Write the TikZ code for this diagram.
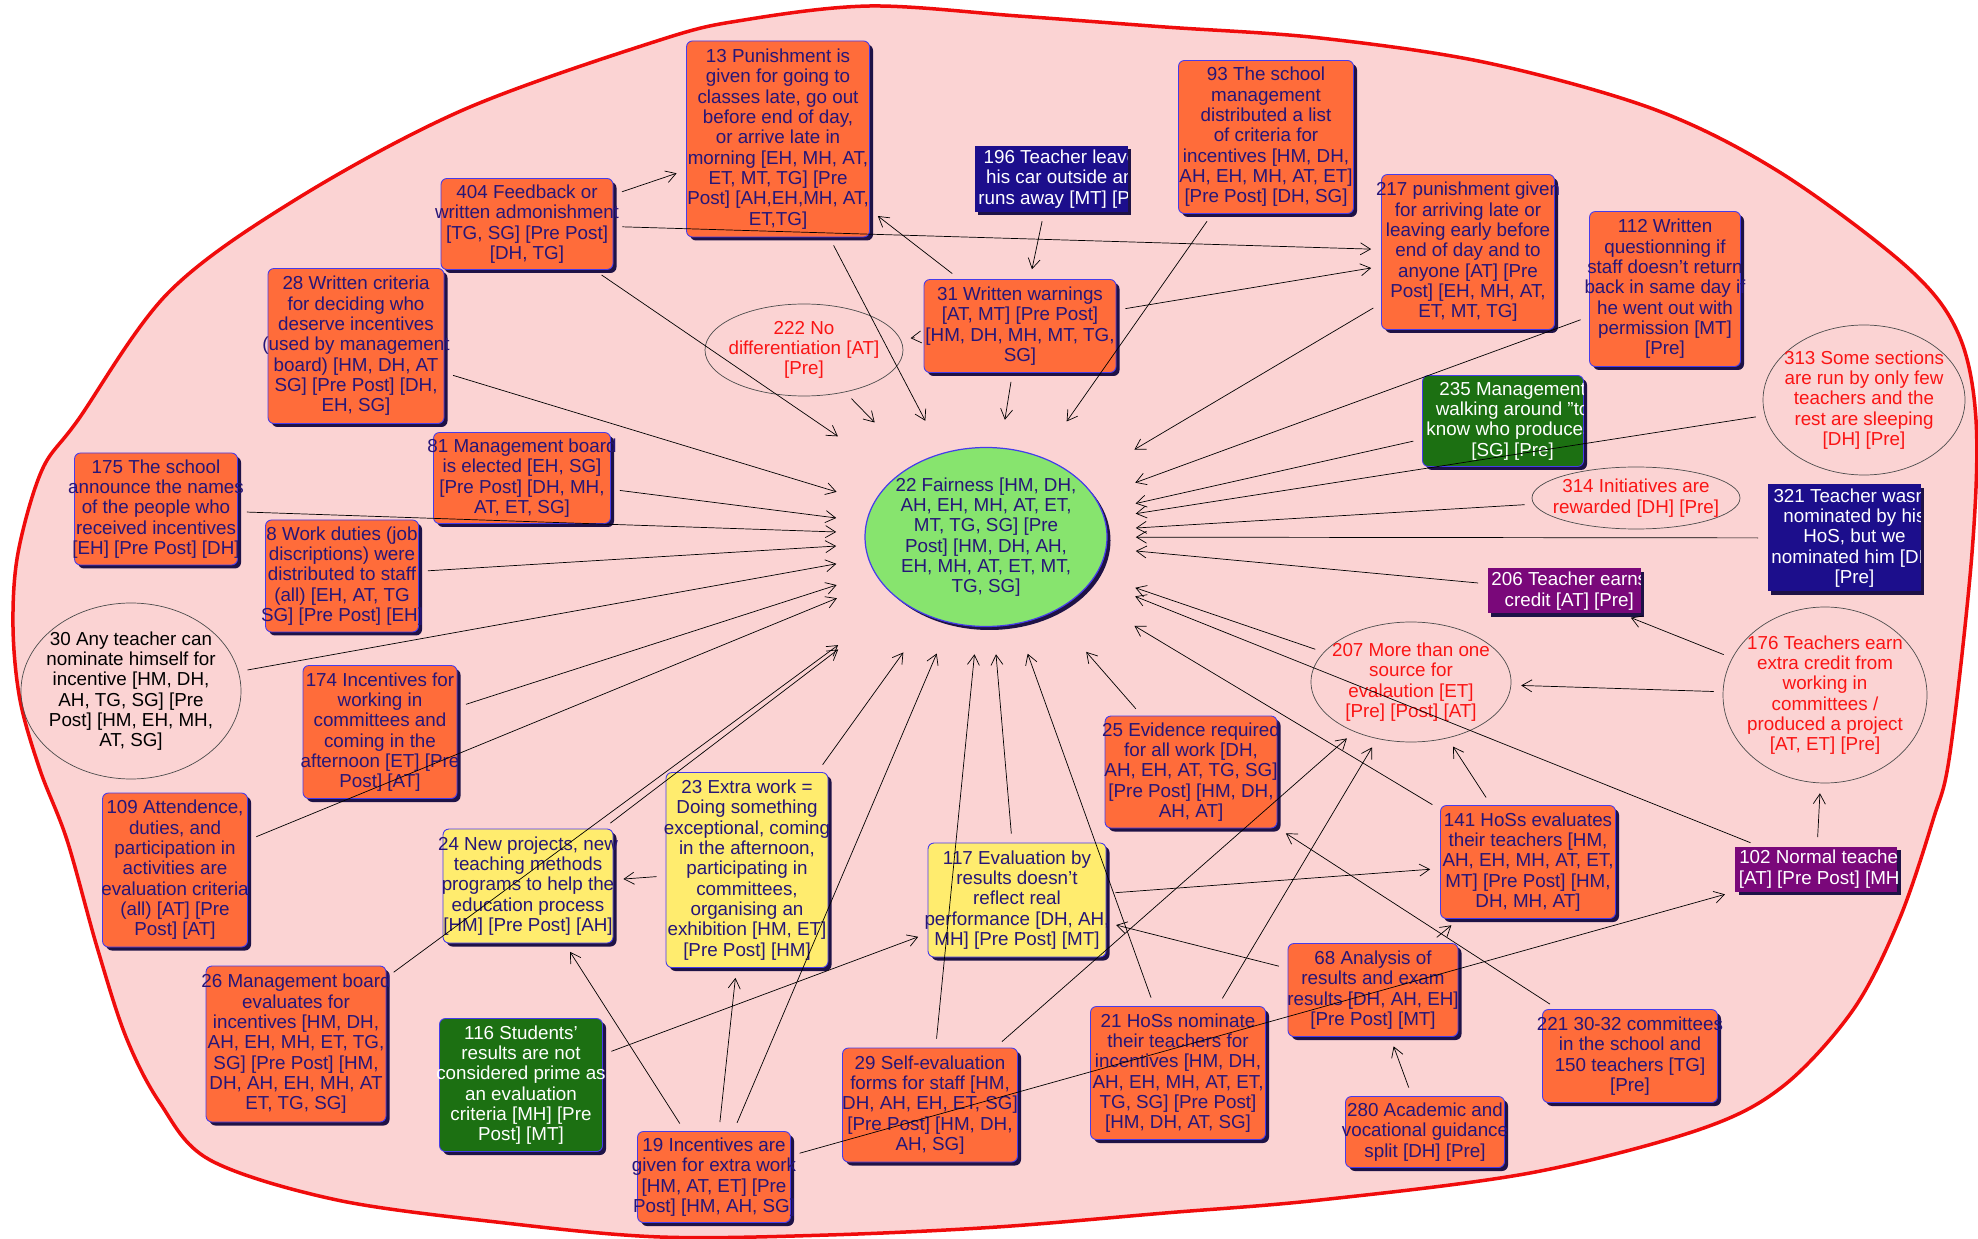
\documentclass[tikz,border=0pt]{standalone}
\usepackage{fontspec}
\setmainfont{Liberation Sans}
\usetikzlibrary{shapes.geometric,shadows,arrows.meta}

\definecolor{fieldpink}{RGB}{251,211,211}
\definecolor{fencered}{RGB}{240,12,12}
\definecolor{orangefill}{RGB}{255,108,58}
\definecolor{yellowfill}{RGB}{255,236,110}
\definecolor{hubgreen}{RGB}{135,228,110}
\definecolor{leafgreen}{RGB}{28,112,18}
\definecolor{navybox}{RGB}{28,14,140}
\definecolor{plum}{RGB}{122,8,122}
\definecolor{inkblue}{RGB}{38,22,120}
\definecolor{edgeblue}{RGB}{70,60,235}
\definecolor{shade}{RGB}{30,18,70}
\definecolor{redtext}{RGB}{250,20,20}

\tikzset{
  wh/.style 2 args={minimum width=#1*0.2mm, minimum height=#2*0.2mm},
  card/.style={rectangle, rounded corners=1.2mm, draw=edgeblue, line width=0.5pt,
    inner sep=-5mm, align=center, text=inkblue,
    drop shadow={shadow xshift=0.7mm, shadow yshift=-0.7mm, fill=shade, opacity=1}},
  ocard/.style={card, fill=orangefill},
  ycard/.style={card, fill=yellowfill},
  gcard/.style={card, fill=leafgreen, text=white},
  ncard/.style={card, sharp corners, draw=none, fill=navybox},
  pcard/.style={card, sharp corners, draw=none, fill=plum},
  oval/.style={ellipse, draw=black!70, line width=0.4pt, inner sep=-8mm,
    align=center, text=redtext},
  spilltext/.style={anchor=west, align=center, text=white, inner sep=0pt},
  link/.style={line width=0.4pt, shorten <=1.8mm, shorten >=2mm,
    -{Straight Barb[length=2mm,width=2.4mm]}},
}

\begin{document}
\begin{tikzpicture}[x=0.2mm, y=-0.2mm, font=\fontsize{10.7pt}{11.55pt}\selectfont]
\useasboundingbox (0,0) rectangle (1978,1239);
\fill[white] (0,0) rectangle (1978,1239);

% outer boundary
\draw[fencered, fill=fieldpink, line width=0.7mm] plot[smooth cycle, tension=0.55] coordinates {
  (463,110) (660,40) (744,20) (870,6) (1018,16) (1165,27) (1320,38) (1488,63)
  (1656,110) (1781,173) (1907,267) (1958,333) (1976,420) (1972,553) (1950,753)
  (1933,820) (1899,920) (1853,1010) (1782,1087) (1698,1130) (1530,1173)
  (1320,1200) (1165,1213) (997,1227) (828,1235) (660,1237) (505,1223)
  (337,1200) (210,1160) (160,1103) (126,1037) (97,947) (67,840) (40,770)
  (20,700) (13,627) (18,553) (42,470) (78,420) (168,293) (295,200)};

% centre concept
\node[ellipse, wh={242}{179}, fill=hubgreen, draw=edgeblue, line width=0.7pt,
  inner sep=-8mm, align=center, text=inkblue,
  drop shadow={shadow xshift=0.7mm, shadow yshift=-0.7mm, fill=shade, opacity=1}]
  (n22) at (986,537) {22 Fairness [HM, DH,\\AH, EH, MH, AT, ET,\\MT, TG, SG] [Pre\\Post] [HM, DH, AH,\\EH, MH, AT, ET, MT,\\TG, SG]};
\node[wh={279}{214}, inner sep=0pt] (hub) at (n22) {};

% top row
\node[ocard, wh={183}{196}] (n13) at (778,139) {13 Punishment is\\given for going to\\classes late, go out\\before end of day,\\or arrive late in\\morning [EH, MH, AT,\\ET, MT, TG] [Pre\\Post] [AH,EH,MH, AT,\\ET,TG]};
\node[ncard, wh={153}{66}] (n196) at (1051,179) {};
\node[ocard, wh={175}{153}] (n93) at (1266,137) {93 The school\\management\\distributed a list\\of criteria for\\incentives [HM, DH,\\AH, EH, MH, AT, ET]\\{}[Pre Post] [DH, SG]};
\node[ocard, wh={172}{91}] (n404) at (527,224) {404 Feedback or\\written admonishment\\{}[TG, SG] [Pre Post]\\{}[DH, TG]};
\node[ocard, wh={176}{155}] (n28) at (356,346) {28 Written criteria\\for deciding who\\deserve incentives\\(used by management\\board) [HM, DH, AT\\SG] [Pre Post] [DH,\\EH, SG]};
\node[ocard, wh={192}{93}] (n31) at (1020,326) {31 Written warnings\\{}[AT, MT] [Pre Post]\\{}[HM, DH, MH, MT, TG,\\SG]};
\node[oval, wh={198}{92}] (n222) at (804,350) {222 No\\differentiation [AT]\\{}[Pre]};
\node[ocard, wh={173}{155}] (n217) at (1468,252) {217 punishment given\\for arriving late or\\leaving early before\\end of day and to\\anyone [AT] [Pre\\Post] [EH, MH, AT,\\ET, MT, TG]};
\node[ocard, wh={151}{155}] (n112) at (1665,289) {112 Written\\questionning if\\staff doesn't return\\back in same day if\\he went out with\\permission [MT]\\{}[Pre]};
\node[oval, wh={202}{150}] (n313) at (1864,400) {313 Some sections\\are run by only few\\teachers and the\\rest are sleeping\\{}[DH] [Pre]};
\node[gcard, wh={161}{91}] (n235) at (1503,421) {};

% left side
\node[ocard, wh={163}{112}] (n175) at (156,509) {175 The school\\announce the names\\of the people who\\received incentives\\{}[EH] [Pre Post] [DH]};
\node[ocard, wh={177}{91}] (n81) at (522,478) {81 Management board\\is elected [EH, SG]\\{}[Pre Post] [DH, MH,\\AT, ET, SG]};
\node[ocard, wh={153}{112}] (n8) at (342,576) {8 Work duties (job\\discriptions) were\\distributed to staff\\(all) [EH, AT, TG\\SG] [Pre Post] [EH]};
\node[oval, wh={220}{176}, text=black] (n30) at (131,691) {30 Any teacher can\\nominate himself for\\incentive [HM, DH,\\AH, TG, SG] [Pre\\Post] [HM, EH, MH,\\AT, SG]};
\node[ocard, wh={154}{133}] (n174) at (380,732) {174 Incentives for\\working in\\committees and\\coming in the\\afternoon [ET] [Pre\\Post] [AT]};
\node[ocard, wh={145}{154}] (n109) at (175,870) {109 Attendence,\\duties, and\\participation in\\activities are\\evaluation criteria\\(all) [AT] [Pre\\Post] [AT]};

% right side
\node[oval, wh={208}{62}] (n314) at (1636,498) {314 Initiatives are\\rewarded [DH] [Pre]};
\node[ncard, wh={153}{107}] (n321) at (1844,538) {};
\node[pcard, wh={153}{45}] (n206) at (1564,591) {};
\node[oval, wh={200}{120}] (n207) at (1411,682) {207 More than one\\source for\\evalaution [ET]\\{}[Pre] [Post] [AT]};
\node[oval, wh={204}{176}] (n176) at (1825,695) {176 Teachers earn\\extra credit from\\working in\\committees /\\produced a project\\{}[AT, ET] [Pre]};
\node[ocard, wh={172}{112}] (n25) at (1191,772) {25 Evidence required\\for all work [DH,\\AH, EH, AT, TG, SG]\\{}[Pre Post] [HM, DH,\\AH, AT]};
\node[ocard, wh={175}{113}] (n141) at (1528,862) {141 HoSs evaluates\\their teachers [HM,\\AH, EH, MH, AT, ET,\\MT] [Pre Post] [HM,\\DH, MH, AT]};
\node[pcard, wh={162}{45}] (n102) at (1816,869) {};

% bottom half
\node[ycard, wh={162}{195}] (n23) at (747,870) {23 Extra work =\\Doing something\\exceptional, coming\\in the afternoon,\\participating in\\committees,\\organising an\\exhibition [HM, ET]\\{}[Pre Post] [HM]};
\node[ycard, wh={170}{114}] (n24) at (528,886) {24 New projects, new\\teaching methods\\programs to help the\\education process\\{}[HM] [Pre Post] [AH]};
\node[ycard, wh={178}{114}] (n117) at (1017,900) {117 Evaluation by\\results doesn't\\reflect real\\performance [DH, AH,\\MH] [Pre Post] [MT]};
\node[ocard, wh={170}{93}] (n68) at (1373,990) {68 Analysis of\\results and exam\\results [DH, AH, EH]\\{}[Pre Post] [MT]};
\node[ocard, wh={180}{156}] (n26) at (296,1044) {26 Management board\\evaluates for\\incentives [HM, DH,\\AH, EH, MH, ET, TG,\\SG] [Pre Post] [HM,\\DH, AH, EH, MH, AT\\ET, TG, SG]};
\node[gcard, wh={163}{133}] (n116) at (521,1085) {116 Students'\\results are not\\considered prime as\\an evaluation\\criteria [MH] [Pre\\Post] [MT]};
\node[ocard, wh={175}{114}] (n29) at (930,1105) {29 Self-evaluation\\forms for staff [HM,\\DH, AH, EH, ET, SG]\\{}[Pre Post] [HM, DH,\\AH, SG]};
\node[ocard, wh={175}{133}] (n21) at (1178,1073) {21 HoSs nominate\\their teachers for\\incentives [HM, DH,\\AH, EH, MH, AT, ET,\\TG, SG] [Pre Post]\\{}[HM, DH, AT, SG]};
\node[ocard, wh={175}{93}] (n221) at (1630,1056) {221 30-32 committees\\in the school and\\150 teachers [TG]\\{}[Pre]};
\node[ocard, wh={159}{71}] (n280) at (1425,1132) {280 Academic and\\vocational guidance\\split [DH] [Pre]};
\node[ocard, wh={153}{91}] (n19) at (714,1177) {19 Incentives are\\given for extra work\\{}[HM, AT, ET] [Pre\\Post] [HM, AH, SG]};

% dark boxes: text cut off at the right edge
\begin{scope}
  \clip (n196.south west) rectangle (n196.north east);
  \node[spilltext] (t196) at ([xshift=0.8mm]n196.west) {196 Teacher leaves\\his car outside and\\runs away [MT] [Pre]};
\end{scope}
\begin{scope}
  \clip (n235.south west) rectangle (n235.north east);
  \node[spilltext] (t235) at ([xshift=0.8mm]n235.west) {235 Management\\walking around "to\\know who produces"\\{}[SG] [Pre]};
\end{scope}
\begin{scope}
  \clip (n321.south west) rectangle (n321.north east);
  \node[spilltext] (t321) at ([xshift=0.8mm]n321.west) {321 Teacher wasn't\\nominated by his\\HoS, but we\\nominated him [DH]\\{}[Pre]};
\end{scope}
\begin{scope}
  \clip (n206.south west) rectangle (n206.north east);
  \node[spilltext] (t206) at ([xshift=0.8mm]n206.west) {206 Teacher earns\\credit [AT] [Pre]};
\end{scope}
\begin{scope}
  \clip (n102.south west) rectangle (n102.north east);
  \node[spilltext] (t102) at ([xshift=0.8mm]n102.west) {102 Normal teacher\\{}[AT] [Pre Post] [MH]};
\end{scope}

% links into fairness
\foreach \from in {n404, n28, n222, n13, n31, n93, n217, n112, n235, n313, n314,
    n321, n206, n207, n102, n141, n81, n175, n8, n30, n174, n109, n26, n24,
    n23, n19, n29, n117, n21, n25}
  \draw[link] (\from) -- (hub);

% other links
\foreach \from/\to in {n404/n13, n404/n217, n196/n31, n31/n13, n31/n222, n31/n217,
    n19/n24, n19/n23, n23/n24, n116/n117, n19/n102, n68/n117, n68/n141,
    n117/n141, n280/n68, n221/n25, n29/n207, n21/n207, n141/n207, n176/n207,
    n176/n206, n102/n176}
  \draw[link] (\from) -- (\to);
\end{tikzpicture}
\end{document}
